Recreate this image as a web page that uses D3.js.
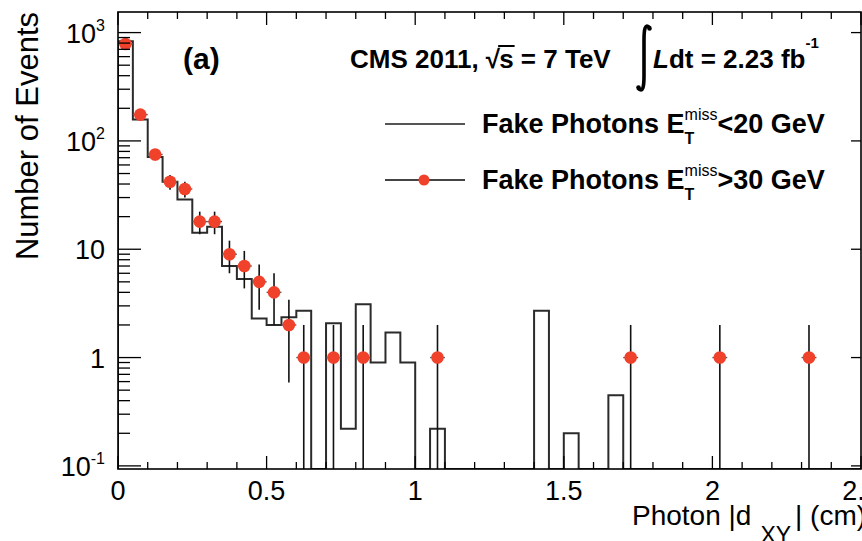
<!DOCTYPE html>
<html><head><meta charset="utf-8">
<script src="https://cdn.jsdelivr.net/npm/d3@7/dist/d3.min.js"></script>
<style>body{margin:0;background:#fff}svg{display:block}text{white-space:pre}</style>
</head><body>
<svg id="chart" width="862" height="541"></svg>
<script>
// Photon |d_XY| for fake-photon control samples, 0.05 cm bins
const binWidth = 0.05;
const nBins = 50;
// E_T^miss < 20 GeV sample (normalised histogram), one entry per bin
const histLowMet = [
  830, 158, 71, 42, 28.8, 14.2, 16.1, 7.0, 5.3, 2.3,
  2.0, 2.35, 2.7, 0, 2.07, 0.22, 3.1, 0.9, 1.7, 0.9,
  0, 0.22, 0, 0, 0, 0, 0, 0, 2.7, 0,
  0.2, 0, 0, 0.45, 0, 0, 0, 0, 0, 0,
  0, 0, 0, 0, 0, 0, 0, 0, 0, 0
];
// E_T^miss > 30 GeV sample: bin centres, counts and Poisson errors
const pointX   = [0.025, 0.075, 0.125, 0.175, 0.225, 0.275, 0.325, 0.375, 0.425, 0.475, 0.525, 0.575, 0.625, 0.725, 0.825, 1.075, 1.725, 2.025, 2.325];
const pointN   = [785, 175, 75, 42, 36, 18, 18, 9, 7, 5, 4, 2, 1, 1, 1, 1, 1, 1, 1];
const pointErr = [28, 13.2, 8.7, 6.5, 6, 4.24, 4.24, 3, 2.65, 2.24, 2, 1.41, 1, 1, 1, 1, 1, 1, 1];

const xTickLabels = ["0", "0.5", "1", "1.5", "2", "2.5"];
const yTickDecades = [0.1, 1, 10, 100, 1000];
const yTickLabels = [["10", "-1"], ["1", ""], ["10", ""], ["10", "2"], ["10", "3"]];

const FONT = "'Liberation Sans', Arial, Helvetica, sans-serif";
const RED = "#f0412b";

const svg = d3.select("#chart");
const L = 118, R = 861, T = 12, B = 469;

const x = d3.scaleLinear().domain([0, 2.5]).range([L, R]);
const y = d3.scaleLog().domain([0.0936, 1549]).range([B, T]);
const yc = v => v > 0 ? Math.min(B, Math.max(T, y(v))) : B;

const plot = svg.append("g");
svg.append("defs").append("clipPath").attr("id", "clip")
  .append("rect").attr("x", L).attr("y", T).attr("width", R - L).attr("height", B - T);

// ---- histogram outline ----
const binLow = d3.range(nBins).map(i => i * binWidth);
let pathD = `M${x(0)},${B}`;
histLowMet.forEach((v, i) => {
  const yy = yc(v);
  pathD += `L${x(binLow[i])},${yy}L${x(binLow[i] + binWidth)},${yy}`;
});
pathD += `L${x(2.5)},${B}`;
plot.append("path").attr("d", pathD).attr("fill", "none")
  .attr("stroke", "#2b2b2b").attr("stroke-width", 2).attr("clip-path", "url(#clip)");

// ---- data points with error bars ----
const pts = plot.append("g").attr("clip-path", "url(#clip)");
pointX.forEach((cx, i) => {
  const n = pointN[i], e = pointErr[i];
  const lo = n - e;
  pts.append("line")
    .attr("x1", x(cx)).attr("x2", x(cx))
    .attr("y1", yc(n + e)).attr("y2", lo > 0 ? yc(lo) : B)
    .attr("stroke", "#111").attr("stroke-width", 1.6);
  pts.append("line")
    .attr("x1", x(cx - binWidth / 2)).attr("x2", x(cx + binWidth / 2))
    .attr("y1", y(n)).attr("y2", y(n))
    .attr("stroke", "#555").attr("stroke-width", 1.4);
});
pts.selectAll("circle.pt").data(pointX).join("circle").attr("class", "pt")
  .attr("cx", d => x(d)).attr("cy", (d, i) => y(pointN[i])).attr("r", 6.3)
  .attr("fill", RED);

// ---- frame and ticks ----
const ax = svg.append("g").attr("stroke", "#000");
ax.append("rect").attr("x", L).attr("y", T).attr("width", R - L).attr("height", B - T)
  .attr("fill", "none").attr("stroke-width", 1.6);

const xMinor = d3.range(0, 26).map(i => i / 10);
xMinor.forEach(v => {
  const major = Math.abs(v * 2 - Math.round(v * 2)) < 1e-6;
  const len = major ? 13 : 7;
  ax.append("line").attr("x1", x(v)).attr("x2", x(v)).attr("y1", B).attr("y2", B - len).attr("stroke-width", 1.3);
  ax.append("line").attr("x1", x(v)).attr("x2", x(v)).attr("y1", T).attr("y2", T + len).attr("stroke-width", 1.3);
});

const yMinor = [];
[0.1, 1, 10, 100, 1000].forEach(d => { for (let k = 2; k <= 9; k++) { const v = d * k; if (v < 1549) yMinor.push(v); } });
yMinor.forEach(v => {
  ax.append("line").attr("x1", L).attr("x2", L + 12).attr("y1", y(v)).attr("y2", y(v)).attr("stroke-width", 1.3);
});
yTickDecades.forEach(v => {
  ax.append("line").attr("x1", L).attr("x2", L + 23).attr("y1", y(v)).attr("y2", y(v)).attr("stroke-width", 1.3);
  ax.append("line").attr("x1", R).attr("x2", R - 10).attr("y1", y(v)).attr("y2", y(v)).attr("stroke-width", 1.3);
});

// ---- tick labels ----
const lab = svg.append("g").attr("font-family", FONT).attr("fill", "#000");
xTickLabels.forEach(s => {
  lab.append("text").attr("x", x(+s)).attr("y", 500).attr("text-anchor", "middle")
    .attr("font-size", 27).text(s);
});
yTickDecades.forEach((v, i) => {
  const [b, e] = yTickLabels[i];
  const t = lab.append("text").attr("x", 105).attr("y", y(v) + 10).attr("text-anchor", "end")
    .attr("font-size", 27).text(b);
  if (e) t.append("tspan").attr("dy", -12).attr("font-size", 16).text(e);
});

// ---- text runs with sub/superscripts ----
function runs(g, x0, y0, parts, base) {
  let cx = x0, stackW = 0;
  parts.forEach(p => {
    const t = g.append("text").attr("x", cx).attr("y", y0 + (p.dy || 0))
      .attr("font-family", p.family || FONT)
      .attr("font-size", p.size || base.size)
      .attr("font-weight", p.weight || base.weight)
      .attr("font-style", p.style || "normal")
      .attr("fill", "#000").text(p.t);
    const w = t.node().getComputedTextLength();
    if (p.over) {
      g.append("line").attr("x1", cx - 1).attr("x2", cx + w + 1)
        .attr("y1", y0 - 22).attr("y2", y0 - 22).attr("stroke", "#000").attr("stroke-width", 2);
    }
    if (p.stack) stackW = Math.max(stackW, w);
    else { cx += Math.max(w, stackW); stackW = 0; }
    if (p.gap) cx += p.gap;
  });
  return cx;
}

const txt = svg.append("g");
// panel label
txt.append("text").attr("x", 183).attr("y", 69).attr("font-family", FONT)
  .attr("font-size", 30).attr("font-weight", "bold").text("(a)");

// experiment / luminosity line
runs(txt, 350, 68, [
  { t: "CMS 2011, " },
  { t: "\u221A", gap: -1 },
  { t: "s", over: true },
  { t: " = 7 TeV" }
], { size: 26, weight: "bold" });
// integral sign
const ix = 644;
txt.append("path")
  .attr("d", `M${ix + 6},${28} C${ix + 1},${22} ${ix},${30} ${ix},${40} L${ix},${76} C${ix},${86} ${ix - 1},${94} ${ix - 6},${88}`)
  .attr("fill", "none").attr("stroke", "#000").attr("stroke-width", 3.6);
txt.append("circle").attr("cx", ix + 5.5).attr("cy", 28.5).attr("r", 2.3);
txt.append("circle").attr("cx", ix - 5.5).attr("cy", 87.5).attr("r", 2.3);
runs(txt, 653, 68, [
  { t: "L", style: "italic" },
  { t: "dt = 2.23 fb" },
  { t: "-1", size: 15, dy: -20 }
], { size: 26, weight: "bold" });

// ---- legend ----
const leg = svg.append("g");
leg.append("line").attr("x1", 385).attr("x2", 465).attr("y1", 124).attr("y2", 124)
  .attr("stroke", "#555").attr("stroke-width", 2);
leg.append("line").attr("x1", 385).attr("x2", 465).attr("y1", 180).attr("y2", 180)
  .attr("stroke", "#444").attr("stroke-width", 1.8);
leg.append("circle").attr("cx", 424).attr("cy", 180).attr("r", 5.5).attr("fill", RED);
[["<20 GeV", 133], [">30 GeV", 189]].forEach(([tail, by]) => {
  runs(leg, 482, by, [
    { t: "Fake Photons E" },
    { t: "T", size: 16, dy: 11, stack: true },
    { t: "miss", size: 16, dy: -13, weight: "normal" },
    { t: tail }
  ], { size: 27, weight: "bold" });
});

// ---- axis titles ----
svg.append("text").attr("transform", "translate(38,12) rotate(-90)")
  .attr("text-anchor", "end").attr("font-family", FONT).attr("font-size", 31)
  .text("Number of Events");
runs(svg, 632, 525, [
  { t: "Photon |d", gap: 9 },
  { t: "XY", size: 23, dy: 18, gap: 4 },
  { t: "| (cm)", size: 28 }
], { size: 28, weight: "normal" });
</script>
</body></html>
